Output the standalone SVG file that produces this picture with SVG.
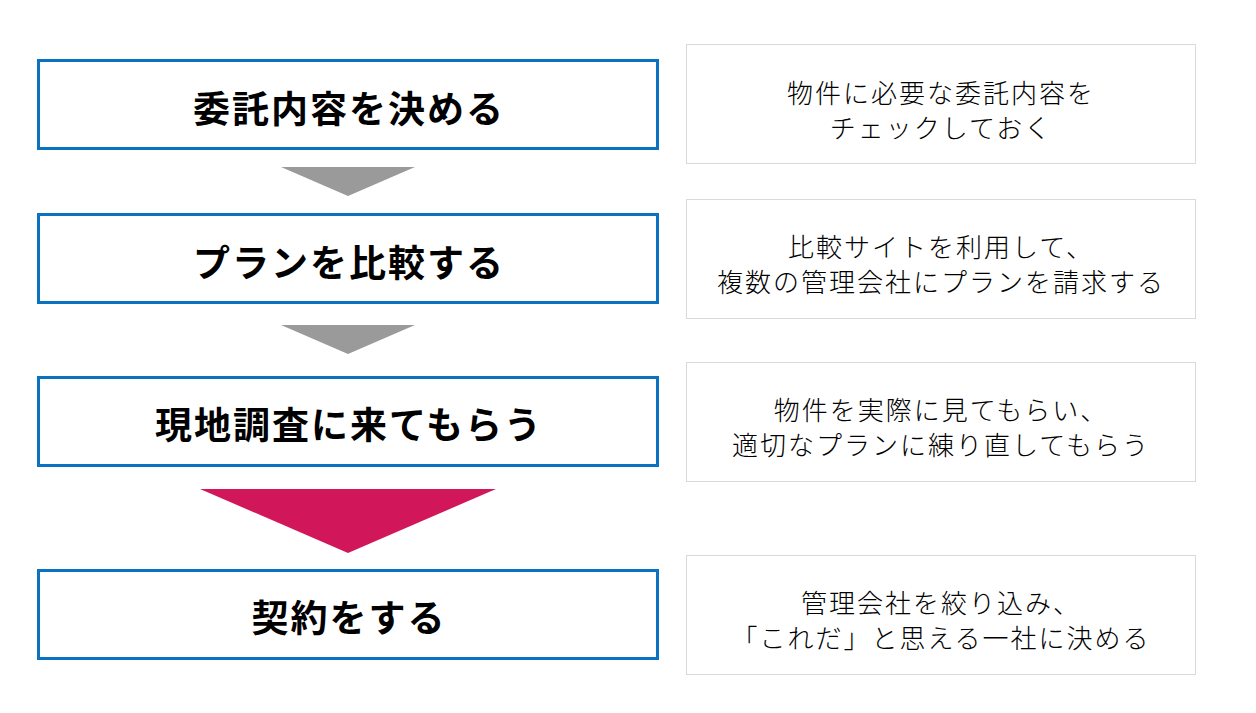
<svg xmlns="http://www.w3.org/2000/svg" width="1256" height="713" viewBox="0 0 1256 713">
<style>
.step{fill:#fff;stroke:#0a72c0;stroke-width:3}
.note{fill:#fff;stroke:#d9d9d9;stroke-width:1}
.st{font-family:"Noto Sans CJK JP","Noto Sans",sans-serif;font-weight:700;font-size:37px;fill:#000;text-anchor:middle;dominant-baseline:central;letter-spacing:2px}
.nt{font-family:"Noto Sans CJK JP","Noto Sans",sans-serif;font-weight:300;font-size:26px;fill:#000;text-anchor:middle;dominant-baseline:central;letter-spacing:2px}
</style>
<rect width="1256" height="713" fill="#fff"/>
<g id="connectors">
<polygon points="281,167 415,167 348,196" fill="#9a9a9a"/>
<polygon points="281,325 415,325 348,354" fill="#9a9a9a"/>
<polygon points="200,489 496,489 348,553" fill="#d1175a"/>
</g>
<g id="step1"><rect class="step" x="38.5" y="60.5" width="619" height="88"/><text class="st" x="349" y="107">委託内容を決める</text></g>
<g id="step2"><rect class="step" x="38.5" y="214.5" width="619" height="88"/><text class="st" x="349" y="261">プランを比較する</text></g>
<g id="step3"><rect class="step" x="38.5" y="377.5" width="619" height="88"/><text class="st" x="349" y="423">現地調査に来てもらう</text></g>
<g id="step4"><rect class="step" x="38.5" y="570.5" width="619" height="88"/><text class="st" x="349" y="616">契約をする</text></g>
<g id="note1"><rect class="note" x="686.5" y="44.5" width="509" height="119"/><text class="nt" x="941" y="91">物件に必要な委託内容を</text><text class="nt" x="941" y="126">チェックしておく</text></g>
<g id="note2"><rect class="note" x="686.5" y="199.5" width="509" height="119"/><text class="nt" x="941" y="245">比較サイトを利用して、</text><text class="nt" x="941" y="280">複数の管理会社にプランを請求する</text></g>
<g id="note3"><rect class="note" x="686.5" y="362.5" width="509" height="119"/><text class="nt" x="941" y="408">物件を実際に見てもらい、</text><text class="nt" x="941" y="443">適切なプランに練り直してもらう</text></g>
<g id="note4"><rect class="note" x="686.5" y="555.5" width="509" height="119"/><text class="nt" x="941" y="601">管理会社を絞り込み、</text><text class="nt" x="941" y="636">「これだ」と思える一社に決める</text></g>
</svg>
